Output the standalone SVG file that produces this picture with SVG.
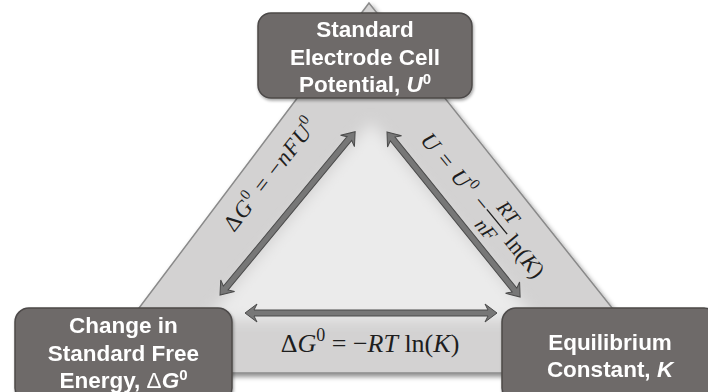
<svg xmlns="http://www.w3.org/2000/svg" width="708" height="392" viewBox="0 0 708 392">
<defs>
<filter id="sh" x="-10%" y="-10%" width="125%" height="125%"><feDropShadow dx="2" dy="3" stdDeviation="2.5" flood-color="#000" flood-opacity="0.45"/></filter>
<filter id="blur" x="-20%" y="-20%" width="140%" height="140%"><feGaussianBlur stdDeviation="7"/></filter>
<filter id="nsh" x="-10%" y="-10%" width="120%" height="130%"><feDropShadow dx="1" dy="2" stdDeviation="1.5" flood-color="#000" flood-opacity="0.35"/></filter>
<clipPath id="tri"><polygon points="369,3 90,373 664,373"/></clipPath>
</defs>
<style>
.node rect{fill:#6e6a69;stroke:#4c4948;stroke-width:1.5}
.nt{font-family:"Liberation Sans",Arial,sans-serif;font-weight:bold;font-size:22.5px;fill:#ffffff;text-anchor:middle}
.eq{font-family:"Liberation Serif","Times New Roman",serif;fill:#1e1e1e}
.it{font-style:italic}
.arrow{fill:#777777;stroke:#4a4a4a;stroke-width:1}
</style>

<g id="background">
<polygon points="369,3 90,373 664,373" fill="#d3d2d2" stroke="#8a8a8a" stroke-width="1.5" filter="url(#sh)"/>
<g clip-path="url(#tri)"><polygon points="371,122 207,320 535,320" fill="#ebebeb" filter="url(#blur)"/></g>
</g>

<g id="connectors">
<path class="arrow" transform="translate(245,313)" d="M0,0 L12,-9 L9,-3 L243,-3 L240,-9 L252,0 L240,9 L243,3 L9,3 L12,9 Z"/>
<path class="arrow" transform="translate(220,295) rotate(-50.4)" d="M0,0 L12,-9 L9,-3 L203,-3 L200,-9 L212,0 L200,9 L203,3 L9,3 L12,9 Z"/>
<path class="arrow" transform="translate(387,132) rotate(51.1)" d="M0,0 L12,-9 L9,-3 L203,-3 L200,-9 L212,0 L200,9 L203,3 L9,3 L12,9 Z"/>
</g>

<g id="labels">
<text class="eq" x="370" y="352" text-anchor="middle" font-size="26">Δ<tspan class="it">G</tspan><tspan font-size="18" dy="-11">0</tspan><tspan dy="11"> = −</tspan><tspan class="it">RT</tspan> ln(<tspan class="it">K</tspan>)</text>
<g transform="translate(270,174) rotate(-52)">
<text class="eq" x="0" y="8" text-anchor="middle" font-size="23" letter-spacing="1">Δ<tspan class="it">G</tspan><tspan font-size="15" dy="-10">0</tspan><tspan dy="10"> = −</tspan><tspan class="it">nFU</tspan><tspan font-size="15" dy="-10">0</tspan></text>
</g>
<g transform="translate(483.5,207) rotate(50.5)">
<text class="eq" x="-92" y="7" font-size="23" letter-spacing="1.5"><tspan class="it">U</tspan> = <tspan class="it">U</tspan><tspan font-size="15" dy="-10">0</tspan><tspan dy="10"> −</tspan></text>
<text class="eq it" x="20" y="-9" text-anchor="middle" font-size="20">RT</text>
<line x1="4" y1="-1" x2="36" y2="-1" stroke="#1e1e1e" stroke-width="1.3"/>
<text class="eq it" x="19" y="19" text-anchor="middle" font-size="20">nF</text>
<text class="eq" x="40" y="7" font-size="23">ln(<tspan class="it">K</tspan>)</text>
</g>
</g>

<g id="node-top" class="node" filter="url(#nsh)">
<rect x="258" y="13" width="214" height="85" rx="13"/>
<text class="nt" x="365" y="37">Standard</text>
<text class="nt" x="365" y="64.5">Electrode Cell</text>
<text class="nt" x="365" y="92">Potential, <tspan class="it">U</tspan><tspan font-size="15" dy="-8">0</tspan></text>
</g>

<g id="node-left" class="node" filter="url(#nsh)">
<rect x="15" y="308" width="217" height="94" rx="14"/>
<text class="nt" x="123.5" y="333">Change in</text>
<text class="nt" x="123.5" y="361">Standard Free</text>
<text class="nt" x="123.5" y="388">Energy, <tspan font-weight="normal">Δ</tspan><tspan class="it">G</tspan><tspan font-size="15" dy="-8">0</tspan></text>
</g>

<g id="node-right" class="node" filter="url(#nsh)">
<rect x="502" y="308" width="216" height="94" rx="14"/>
<text class="nt" x="610" y="350">Equilibrium</text>
<text class="nt" x="610" y="377">Constant, <tspan class="it">K</tspan></text>
</g>
</svg>
